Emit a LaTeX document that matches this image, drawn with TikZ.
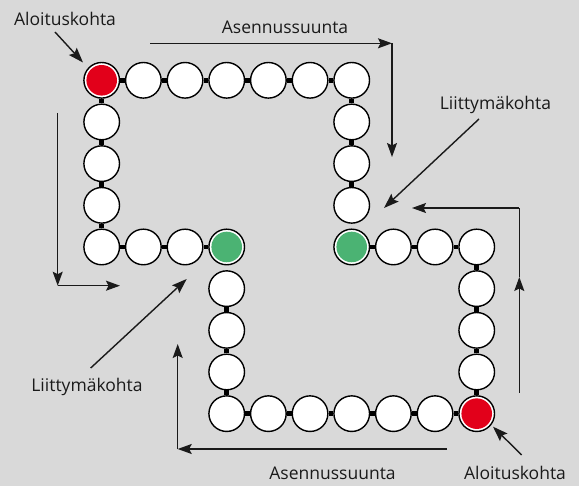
\documentclass[tikz,border=0pt]{standalone}
\usepackage{fontspec}
\setmainfont{Open Sans}
\usetikzlibrary{arrows.meta}
\definecolor{bg}{HTML}{D9D9D9}
\definecolor{startred}{HTML}{E2001A}
\definecolor{joingreen}{HTML}{4BB373}
\definecolor{ink}{HTML}{1A1A1A}
\tikzset{
  bead/.style={circle, draw=black, line width=1.4pt, fill=white, minimum size=35.6pt, inner sep=0pt},
  startbead/.style={bead, path picture={\fill[startred] (path picture bounding box.center) circle[radius=15.3pt];}},
  joinbead/.style={bead, path picture={\fill[joingreen] (path picture bounding box.center) circle[radius=15.3pt];}},
  link/.style={draw=black, line width=4.5pt},
  dirarrow/.style={draw=ink, line width=1.3pt, -{Stealth[length=14pt,width=10pt,inset=2.5pt]}},
  plainline/.style={draw=ink, line width=1.3pt},
  pointer/.style={draw=ink, line width=1.4pt, -{Stealth[length=15pt,width=10.5pt,inset=2.5pt]}},
  lbl/.style={font=\fontsize{17.5}{20}\selectfont, text=ink, anchor=base, inner sep=0pt}
}
\begin{document}
\begin{tikzpicture}[x=1pt,y=-1pt]
\fill[bg] (0,0) rectangle (579,486);
\useasboundingbox (0,0) rectangle (579,486);

% beads
\foreach \i/\j in {1/0,2/0,3/0,4/0,5/0,6/0,6/1,6/2,6/3,0/1,0/2,0/3,0/4,1/4,2/4,
                   7/4,8/4,9/4,9/5,9/6,9/7,8/8,7/8,6/8,5/8,4/8,3/8,3/7,3/6,3/5}
  \node[bead] (c\i\j) at ({101.7+41.67*\i},{80.3+41.67*\j}) {};
\node[startbead] (c00) at ({101.7},{80.3}) {};
\node[startbead] (c98) at ({101.7+41.67*9},{80.3+41.67*8}) {};
\node[joinbead] (c34) at ({101.7+41.67*3},{80.3+41.67*4}) {};
\node[joinbead] (c64) at ({101.7+41.67*6},{80.3+41.67*4}) {};

% links
\foreach \a/\b in {00/10,10/20,20/30,30/40,40/50,50/60,60/61,61/62,62/63,
                   00/01,01/02,02/03,03/04,04/14,14/24,24/34,
                   64/74,74/84,84/94,94/95,95/96,96/97,97/98,
                   98/88,88/78,78/68,68/58,58/48,48/38,38/37,37/36,36/35}
  \draw[link] (c\a) -- (c\b);

% direction arrows
\coordinate (t1) at (150,43.3);
\coordinate (t2) at (392,43.3);
\coordinate (t3) at (392,157);
\draw[dirarrow] (t1) -- (t2);
\draw[dirarrow] (t2) -- (t3);

\coordinate (l1) at (57.7,113);
\coordinate (l2) at (57.7,285.7);
\coordinate (l3) at (120,285.7);
\draw[dirarrow] (l1) -- (l2);
\draw[dirarrow] (l2) -- (l3);

\coordinate (r1) at (519.3,393);
\coordinate (r2) at (519.3,277);
\coordinate (r3) at (519.3,208);
\coordinate (r4) at (412,208);
\draw[dirarrow] (r1) -- (r2);
\draw[plainline] (r2) -- (r3);
\draw[dirarrow] (r3) -- (r4);

\coordinate (b1) at (447,449);
\coordinate (b2) at (177.7,449);
\coordinate (b3) at (177.7,344);
\draw[dirarrow] (b1) -- (b2);
\draw[dirarrow] (b2) -- (b3);

% labels
\node[lbl] (aloA) at (65,26) {Aloituskohta};
\node[lbl] (asenA) at (285,34) {Asennussuunta};
\node[lbl] (liitA) at (495.5,110) {Liittymäkohta};
\node[lbl] (liitB) at (87,391.7) {Liittymäkohta};
\node[lbl] (asenB) at (332.5,480) {Asennussuunta};
\node[lbl] (aloB) at (515,480) {Aloituskohta};

% pointers
\coordinate (p1s) at (55,32);
\coordinate (p1e) at (83,62.5);
\draw[pointer] (p1s) -- (p1e);
\coordinate (p2s) at (479,119);
\coordinate (p2e) at (384,208);
\draw[pointer] (p2s) -- (p2e);
\coordinate (p3s) at (90.7,368);
\coordinate (p3e) at (186.7,279);
\draw[pointer] (p3s) -- (p3e);
\coordinate (p4s) at (521.7,455);
\coordinate (p4e) at (493,426.7);
\draw[pointer] (p4s) -- (p4e);
\end{tikzpicture}
\end{document}
